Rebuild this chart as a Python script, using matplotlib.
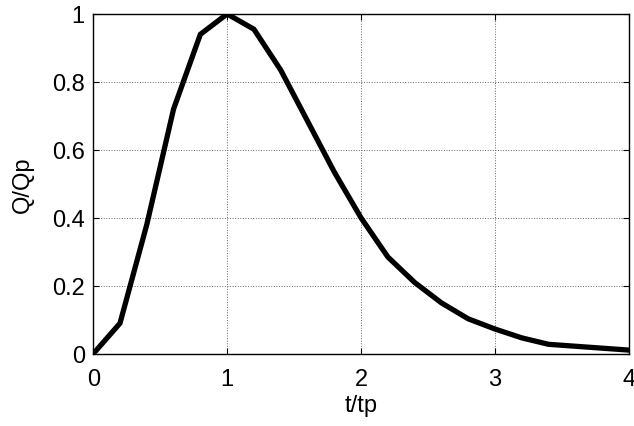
import numpy as np
from matplotlib import pyplot as plt

# dimensionless hydrograph
t_tp = [0, 0.2, 0.4, 0.6, 0.8, 1.0, 1.2, 1.4, 1.6, 1.8, 2.0, 2.2, 2.4, 2.6, 2.8, 3.0, 3.2, 3.4, 4.0]
q_qp = [0, 0.09, 0.38, 0.72, 0.94, 1.0, 0.955, 0.835, 0.685, 0.535, 0.40, 0.285, 0.21, 0.15, 0.103, 0.073, 0.047, 0.028, 0.011]

plt.rcParams['font.family'] = ['Liberation Sans', 'DejaVu Sans']

fig = plt.figure(figsize=(6.34, 4.27), dpi=100)
ax = fig.add_axes([0.147, 0.169, 0.845, 0.796])

ax.plot(t_tp, q_qp, color='black', linewidth=3.8, solid_joinstyle='miter')

ax.set_xlim(0, 4)
ax.set_ylim(0, 1)
ax.set_xticks([0, 1, 2, 3, 4])
ax.set_yticks([0, 0.2, 0.4, 0.6, 0.8, 1])
ax.set_yticklabels(['0', '0.2', '0.4', '0.6', '0.8', '1'])
ax.grid(True, color='#666666', linestyle=':', linewidth=0.7)
ax.tick_params(direction='in', top=True, right=True, length=4, labelsize=17)
ax.tick_params(axis='x', pad=10)
ax.tick_params(axis='y', pad=6)
for s in ax.spines.values():
    s.set_linewidth(1.0)

ax.set_xlabel('t/tp', fontsize=17, labelpad=3)
ax.set_ylabel('Q/Qp', fontsize=17, labelpad=13)

plt.savefig('out.png', dpi=100)
